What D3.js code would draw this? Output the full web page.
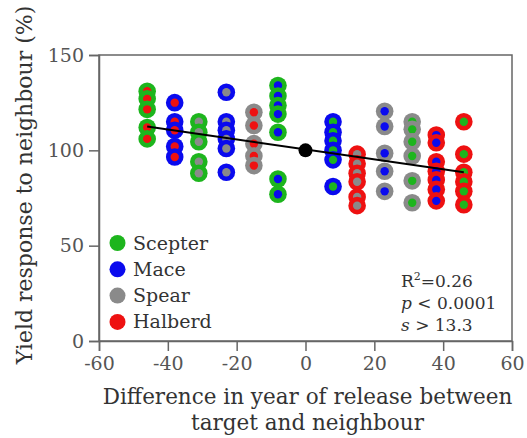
<!DOCTYPE html>
<html><head><meta charset="utf-8">
<script src="https://cdn.jsdelivr.net/npm/d3@7"></script>
<style>
html,body{margin:0;padding:0;background:#fff;}
svg{display:block;}
text{font-family:"DejaVu Serif",serif;}
</style></head>
<body>
<script>
// ---- data ----
const varieties = ["Scepter", "Mace", "Spear", "Halberd"];
const xTicks = [-60, -40, -20, 0, 20, 40, 60];
const yTicks = [0, 50, 100, 150];
const columnX = [-46, -38, -31, -23, -15, -8, 8, 15, 23, 31, 38, 46];
const columnOuter = ["Scepter","Mace","Scepter","Mace","Spear","Scepter","Mace","Halberd","Spear","Spear","Halberd","Halberd"];
const columnInner = ["Halberd","Halberd","Spear","Spear","Halberd","Mace","Scepter","Spear","Mace","Scepter","Mace","Scepter"];
const columnValues = [
  [131, 127, 121.5, 112, 106],
  [125, 115, 110.5, 102, 96.5],
  [115, 109.5, 104.5, 94, 88],
  [130.5, 115, 110.5, 106, 101, 88.5],
  [120, 113, 103.5, 97, 92],
  [134, 128.5, 123.5, 119, 109.5, 85, 77],
  [115, 109.5, 105, 100, 95, 81],
  [98, 93, 88, 83.5, 75.5, 71],
  [120.5, 112.5, 98.5, 89, 78.5],
  [115, 111, 104.5, 97, 84, 72.5],
  [108, 104, 94, 89, 84.5, 79.5, 73.5],
  [115, 98, 88.5, 83.5, 78.5, 71.5]
];
const refPoint = [0, 100];
const fitX = [-46, 46];
const fitY = [112.5, 88.5];

// ---- styles ----
const colorOf = {Scepter:"#1db51d", Mace:"#0a0aee", Spear:"#8a8a8a", Halberd:"#ee1111"};
const W = 527, H = 438;
const x = d3.scaleLinear().domain([-60, 60]).range([99, 512]);
const y = d3.scaleLinear().domain([0, 150]).range([341, 55]);

const svg = d3.select("body").append("svg").attr("width", W).attr("height", H);

// frame
svg.append("rect").attr("x", x(-60)).attr("y", y(150))
  .attr("width", x(60) - x(-60)).attr("height", y(0) - y(150))
  .attr("fill", "none").attr("stroke", "#666").attr("stroke-width", 1.5);

// axes
const xAxis = svg.append("g").attr("transform", `translate(0,${y(0)})`)
  .call(d3.axisBottom(x).tickValues(xTicks).tickSize(10).tickPadding(6).tickFormat(d3.format("d")));
const yAxis = svg.append("g").attr("transform", `translate(${x(-60)},0)`)
  .call(d3.axisLeft(y).tickValues(yTicks).tickSize(10).tickPadding(5));
[xAxis, yAxis].forEach(g => {
  g.select(".domain").attr("stroke", "#666").attr("stroke-width", 1.5);
  g.selectAll(".tick line").attr("stroke", "#666").attr("stroke-width", 1.5);
  g.selectAll(".tick text").attr("fill", "#555").style("font-family", "DejaVu Serif").style("font-size", "19px");
});
xAxis.selectAll(".tick text").text(d => d < 0 ? "-" + Math.abs(d) : d);

// points
const pts = [];
columnX.forEach((cx, i) => columnValues[i].forEach(v => pts.push({x: cx, v, o: columnOuter[i], n: columnInner[i]})));
const pg = svg.append("g");
pts.forEach(p => {
  pg.append("circle").attr("cx", x(p.x)).attr("cy", y(p.v)).attr("r", 8.8).attr("fill", colorOf[p.o]);
  pg.append("circle").attr("cx", x(p.x)).attr("cy", y(p.v)).attr("r", 4.2).attr("fill", colorOf[p.n]);
});

// fit line and reference point
svg.append("line").attr("x1", x(fitX[0])).attr("y1", y(fitY[0])).attr("x2", x(fitX[1])).attr("y2", y(fitY[1]))
  .attr("stroke", "#000").attr("stroke-width", 2);
svg.append("circle").attr("cx", x(refPoint[0])).attr("cy", y(refPoint[1])).attr("r", 7).attr("fill", "#000");

// legend
const lg = svg.append("g");
varieties.forEach((v, i) => {
  const cy = 243 + i * 26.3;
  lg.append("circle").attr("cx", 117.5).attr("cy", cy).attr("r", 8).attr("fill", colorOf[v]);
  lg.append("text").attr("x", 133).attr("y", cy + 6.5).attr("fill", "#333").style("font-size", "19px").text(v);
});

// stats
const st = svg.append("g").attr("fill", "#333").style("font-size", "17px");
const t1 = st.append("text").attr("x", 401).attr("y", 287);
t1.append("tspan").text("R");
t1.append("tspan").attr("dy", -7).style("font-size", "11px").text("2");
t1.append("tspan").attr("dy", 7).text("=0.26");
const t2 = st.append("text").attr("x", 401).attr("y", 309);
t2.append("tspan").style("font-style", "italic").text("p");
t2.append("tspan").text(" < 0.0001");
const t3 = st.append("text").attr("x", 401).attr("y", 331);
t3.append("tspan").style("font-style", "italic").text("s");
t3.append("tspan").text(" > 13.3");

// axis titles
const cxTitle = (x(-60) + x(60)) / 2 + 2;
svg.append("text").attr("x", cxTitle).attr("y", 404).attr("text-anchor", "middle")
  .attr("fill", "#333").style("font-size", "21.5px").text("Difference in year of release between");
svg.append("text").attr("x", cxTitle).attr("y", 430).attr("text-anchor", "middle")
  .attr("fill", "#333").style("font-size", "21.5px").text("target and neighbour");
svg.append("text").attr("transform", `translate(32,185) rotate(-90)`).attr("text-anchor", "middle")
  .attr("fill", "#333").style("font-size", "22px").text("Yield response to neighbour (%)");
</script>
</body></html>
